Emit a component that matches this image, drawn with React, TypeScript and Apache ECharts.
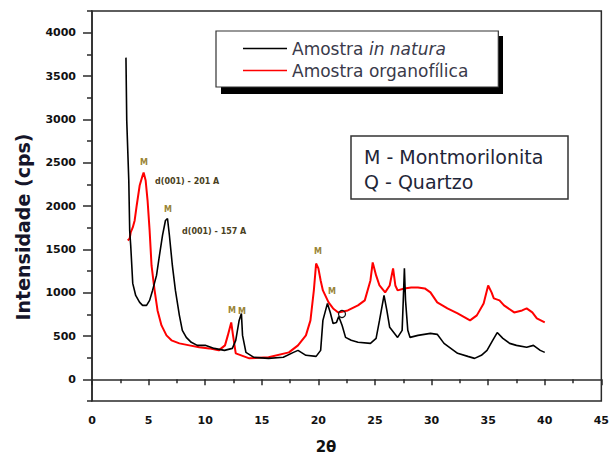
import React, { useEffect, useRef } from "react";
import * as echarts from "echarts";

// ---- data ----
const blackX = [3.0, 3.07, 3.25, 3.33, 3.42, 3.6, 3.86, 4.21, 4.47, 4.82, 5.09, 5.35, 5.7, 5.96, 6.23, 6.49, 6.67, 6.84, 7.1, 7.37, 7.72, 7.98, 8.33, 8.77, 9.3, 10.0, 10.8, 11.7, 12.4, 12.7, 13.0, 13.2, 13.3, 13.6, 14.3, 15.6, 16.9, 17.8, 18.2, 18.9, 19.8, 20.2, 20.4, 20.8, 21.05, 21.3, 21.6, 21.8, 22.1, 22.4, 22.9, 23.5, 24.6, 25.1, 25.4, 25.8, 26.05, 26.3, 27.0, 27.4, 27.5, 27.6, 27.7, 27.9, 28.1, 28.8, 29.9, 30.5, 31.1, 32.3, 33.2, 33.8, 34.4, 34.9, 35.4, 35.8, 36.3, 36.9, 37.5, 38.4, 39.0, 39.6, 40.0];
const blackY = [3712, 2985, 2294, 1718, 1545, 1107, 968, 888, 853, 853, 911, 1026, 1199, 1429, 1660, 1833, 1856, 1660, 1314, 1026, 738, 565, 484, 427, 392, 392, 357, 334, 357, 450, 680, 760, 507, 311, 254, 242, 254, 311, 334, 277, 265, 334, 680, 876, 772, 645, 657, 726, 622, 484, 450, 427, 415, 473, 680, 968, 795, 600, 484, 565, 911, 1280, 911, 565, 484, 507, 530, 519, 415, 300, 265, 242, 277, 334, 450, 540, 473, 415, 392, 370, 392, 334, 311];

const redX = [3.16, 3.33, 3.42, 3.6, 3.77, 3.95, 4.21, 4.47, 4.56, 4.74, 4.91, 5.09, 5.26, 5.53, 5.79, 6.14, 6.58, 7.02, 7.72, 8.6, 9.47, 10.35, 11.2, 11.75, 12.0, 12.3, 12.46, 12.7, 13.9, 15.6, 17.4, 18.2, 18.9, 19.3, 19.6, 19.8, 20.0, 20.2, 20.4, 20.9, 21.3, 21.75, 22.6, 23.5, 24.1, 24.6, 24.8, 25.1, 25.4, 25.9, 26.3, 26.6, 26.8, 27.0, 27.6, 28.2, 28.8, 29.4, 29.9, 30.5, 31.4, 32.3, 33.4, 34.0, 34.6, 35.0, 35.3, 35.5, 36.0, 36.4, 37.3, 38.0, 38.4, 38.9, 39.3, 40.0];
const redY = [1602, 1625, 1695, 1752, 1833, 2006, 2236, 2352, 2386, 2294, 2063, 1718, 1314, 1026, 795, 622, 507, 450, 415, 392, 369, 357, 334, 392, 507, 657, 507, 300, 242, 254, 311, 392, 507, 680, 1026, 1337, 1280, 1141, 1026, 888, 818, 772, 795, 853, 911, 1141, 1349, 1199, 1083, 1003, 1083, 1280, 1083, 1026, 1049, 1060, 1060, 1049, 1003, 888, 818, 760, 680, 738, 876, 1083, 1003, 934, 911, 853, 772, 795, 818, 772, 703, 657];

const seriesNames = ["Amostra in natura", "Amostra organofílica"];
const yMajorTicks = [0, 500, 1000, 1500, 2000, 2500, 3000, 3500, 4000];
const yMinorTicks = [-250, 250, 750, 1250, 1750, 2250, 2750, 3250, 3750, 4250];

const FONT = "'DejaVu Sans', Verdana, sans-serif";

export default function App() {
  const ref = useRef<HTMLDivElement>(null);
  useEffect(() => {
    if (!ref.current) return;
    const chart = echarts.init(ref.current, null, { renderer: "svg" });
    const pairs = (xs: number[], ys: number[]) => xs.map((x, i) => [x, ys[i]]);
    const annoColor = "#9a8436";
    const annoDark = "#4a3f22";
    const mLabel = (x: number, y: number) => ({
      type: "text",
      x,
      y,
      style: { text: "M", font: `bold 8px ${FONT}`, fill: annoColor, textAlign: "center", textVerticalAlign: "middle" },
      z: 6,
    });
    chart.setOption({
      animation: false,
      backgroundColor: "#ffffff",
      grid: {
        left: 92,
        right: 6,
        top: 11,
        bottom: 55,
        show: true,
        borderColor: "#2a2a2a",
        borderWidth: 1.5,
        backgroundColor: "transparent",
      },
      legend: {
        orient: "vertical",
        left: 216,
        top: 31,
        data: seriesNames,
        icon: "rect",
        backgroundColor: "#ffffff",
        borderColor: "#333333",
        borderWidth: 1.2,
        padding: [9, 30, 8, 27],
        itemGap: 5,
        itemWidth: 44,
        itemHeight: 1.5,
        formatter: (name: string) =>
          name === "Amostra in natura" ? "{n|Amostra }{i|in natura}" : "{n|Amostra organofílica}",
        textStyle: {
          rich: {
            n: { fontFamily: FONT, fontSize: 17, lineHeight: 18, color: "#3a3a4a" },
            i: { fontFamily: FONT, fontSize: 17, lineHeight: 18, color: "#3a3a4a", fontStyle: "italic" },
          },
        },
      },
      xAxis: {
        type: "value",
        min: 0,
        max: 45,
        interval: 5,
        axisLine: { show: true, lineStyle: { color: "#2a2a2a", width: 1.5 } },
        axisTick: { show: true, length: 6, lineStyle: { color: "#2a2a2a", width: 1.5 } },
        minorTick: { show: true, splitNumber: 2, length: 4, lineStyle: { color: "#2a2a2a", width: 1.5 } },
        splitLine: { show: false },
        axisLabel: { fontFamily: FONT, fontWeight: "bold", fontSize: 11, color: "#111", margin: 14 },
      },
      yAxis: [
        {
          type: "value",
          min: -250,
          max: 4250,
          position: "left",
          axisLine: { show: true, lineStyle: { color: "#2a2a2a", width: 1.5 } },
          axisTick: { show: true, length: 9, customValues: yMajorTicks, lineStyle: { color: "#2a2a2a", width: 1.5 } },
          splitLine: { show: false },
          axisLabel: {
            customValues: yMajorTicks,
            formatter: (v: number) => String(v),
            fontFamily: FONT,
            fontWeight: "bold",
            fontSize: 11,
            color: "#111",
            margin: 16,
          },
        },
        {
          type: "value",
          min: -250,
          max: 4250,
          position: "left",
          axisLine: { show: false },
          axisTick: { show: true, length: 5, customValues: yMinorTicks, lineStyle: { color: "#2a2a2a", width: 1.5 } },
          splitLine: { show: false },
          axisLabel: { show: false },
        },
      ],
      series: [
        {
          name: seriesNames[0],
          type: "line",
          data: pairs(blackX, blackY),
          symbol: "none",
          lineStyle: { color: "#000000", width: 1.6 },
          itemStyle: { color: "#000000" },
          z: 3,
        },
        {
          name: seriesNames[1],
          type: "line",
          data: pairs(redX, redY),
          symbol: "none",
          lineStyle: { color: "#ff0000", width: 2 },
          itemStyle: { color: "#ff0000" },
          z: 2,
        },
      ],
      graphic: [
        // legend shadow
        { type: "rect", shape: { x: 221, y: 36, width: 282, height: 58 }, style: { fill: "#000" }, z: 0 },
        // info box
        {
          type: "rect",
          shape: { x: 351, y: 136, width: 217, height: 63 },
          style: { fill: "#fff", stroke: "#333", lineWidth: 1.5 },
          z: 5,
        },
        {
          type: "text",
          x: 364,
          y: 157,
          style: { text: "M - Montmorilonita", font: `19px ${FONT}`, fill: "#1f2638", textVerticalAlign: "middle" },
          z: 6,
        },
        {
          type: "text",
          x: 364,
          y: 182,
          style: { text: "Q - Quartzo", font: `19px ${FONT}`, fill: "#1f2638", textVerticalAlign: "middle" },
          z: 6,
        },
        // axis titles
        {
          type: "text",
          x: 23,
          y: 227,
          rotation: Math.PI / 2,
          style: {
            text: "Intensidade (cps)",
            font: `bold 19px ${FONT}`,
            fill: "#15152a",
            textAlign: "center",
            textVerticalAlign: "middle",
          },
        },
        {
          type: "text",
          x: 326,
          y: 447,
          style: { text: "2θ", font: `bold 15px ${FONT}`, fill: "#111", textAlign: "center", textVerticalAlign: "middle" },
        },
        // peak annotations
        mLabel(144, 162),
        { type: "text", x: 155, y: 181, style: { text: "d(001) - 201 A", font: `bold 8px ${FONT}`, fill: annoDark, textVerticalAlign: "middle" }, z: 6 },
        mLabel(168, 209),
        { type: "text", x: 182, y: 231, style: { text: "d(001) - 157 A", font: `bold 8px ${FONT}`, fill: annoDark, textVerticalAlign: "middle" }, z: 6 },
        mLabel(232, 310),
        mLabel(242, 311),
        mLabel(318, 251),
        mLabel(332, 291),
        { type: "circle", shape: { cx: 342, cy: 314, r: 3.5 }, style: { fill: "none", stroke: "#111", lineWidth: 1.2 }, z: 6 },
      ],
    });
    return () => chart.dispose();
  }, []);
  return <div ref={ref} style={{ position: "absolute", left: 0, top: 0, width: 612, height: 456 }} />;
}
